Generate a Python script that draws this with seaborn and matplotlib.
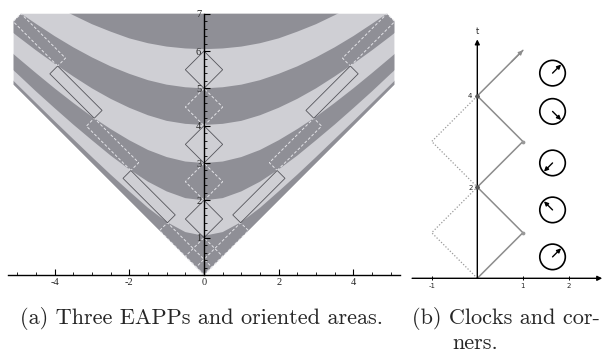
import matplotlib
matplotlib.use("Agg")
import matplotlib.pyplot as plt
from matplotlib.patches import Polygon, Circle
from matplotlib.ticker import MultipleLocator
import numpy as np
import seaborn as sns

# ---- (a) proper-time bands, boundaries read at x = 0 .. 5.5 (right half, mirrored)
x_pts = [0.0, 0.5, 1.0, 1.5, 2.0, 2.5, 3.0, 3.5, 4.0, 4.5, 5.0, 5.5]
bound_1 = [1.05, 1.15, 1.42, 1.80, 2.24, 2.69, 3.16, 3.64, 4.12, 4.61, 5.10, 5.59]
bound_2 = [2.00, 2.06, 2.24, 2.50, 2.83, 3.20, 3.61, 4.03, 4.47, 4.92, 5.39, 5.85]
bound_3 = [3.00, 3.04, 3.16, 3.35, 3.61, 3.91, 4.24, 4.61, 5.00, 5.41, 5.83, 6.26]
bound_4 = [4.02, 4.05, 4.13, 4.28, 4.48, 4.72, 5.00, 5.32, 5.66, 6.02, 6.40, 6.80]
bound_5 = [5.00, 5.03, 5.10, 5.22, 5.39, 5.59, 5.83, 6.10, 6.40, 6.73, 7.07, 7.43]
bound_6 = [6.05, 6.07, 6.12, 6.21, 6.34, 6.52, 6.72, 6.96, 7.22, 7.50, 7.80, 8.10]

# outline of the shaded cone
cone_x = [0.0, 5.1, 5.1, 4.9, -4.9, -5.1, -5.1]
cone_t = [0.0, 5.1, 6.8, 7.0, 7.0, 6.8, 5.1]

# light-clock diamonds on the resting worldline
center_solid = [[(0, 1), (0.5, 1.5), (0, 2), (-0.5, 1.5)],
                [(0, 3), (0.5, 3.5), (0, 4), (-0.5, 3.5)],
                [(0, 5), (0.5, 5.5), (0, 6), (-0.5, 5.5)]]
center_dashed = [[(0, 0), (0.5, 0.5), (0, 1), (-0.5, 0.5)],
                 [(0, 2), (0.5, 2.5), (0, 3), (-0.5, 2.5)],
                 [(0, 4), (0.5, 4.5), (0, 5), (-0.5, 4.5)]]
# boosted ones on the right worldline (left one is the mirror image)
right_solid = [[(0.98, 1.40), (2.17, 2.59), (1.96, 2.80), (0.77, 1.61)],
               [(2.94, 4.20), (4.13, 5.39), (3.92, 5.60), (2.73, 4.41)]]
right_dashed = [[(0.00, 0.00), (1.19, 1.19), (0.98, 1.40), (-0.21, 0.21)],
                [(1.96, 2.80), (3.15, 3.99), (2.94, 4.20), (1.75, 3.01)],
                [(3.92, 5.60), (5.11, 6.79), (4.90, 7.00), (3.71, 5.81)]]

# ---- (b) clocks and corners
zig_x = [0, 1, 0, 1, 0, 1]
zig_t = [0, 1, 2, 3, 4, 5]
dot_x = [0, -1, 0, -1, 0]
dot_t = [0, 1, 2, 3, 4]
clock_x = [1.65, 1.65, 1.65, 1.65, 1.65]
clock_t = [0.47, 1.50, 2.53, 3.66, 4.50]
clock_angle = [45, 135, 225, 315, 45]

sns.set_theme(style="white")
plt.rcParams['axes.unicode_minus'] = False

light = '#cfcfd4'
dark = '#8f8f96'

fig = plt.figure(figsize=(6.07, 3.54), dpi=100)

# ================= panel (a)
ax = fig.add_axes([8 / 607, 79 / 354, 392 / 607, 265 / 354])
ax.set_facecolor('white')
cone = Polygon(list(zip(cone_x, cone_t)), closed=True, fc=light, ec='none', zorder=1)
ax.add_patch(cone)

xs = np.array(x_pts)
full_x = np.concatenate([-xs[::-1], xs[1:]])


def mirror(vals):
    v = np.array(vals)
    return np.concatenate([v[::-1], v[1:]])


low_edge = np.full(full_x.shape, -1.0)
top_edge = np.full(full_x.shape, 9.0)
dark_bands = [(low_edge, mirror(bound_1)),
              (mirror(bound_2), mirror(bound_3)),
              (mirror(bound_4), mirror(bound_5)),
              (mirror(bound_6), top_edge)]
for lo, hi in dark_bands:
    pts = list(zip(full_x, lo)) + list(zip(full_x[::-1], hi[::-1]))
    band = Polygon(pts, closed=True, fc=dark, ec='none', zorder=1.5)
    ax.add_patch(band)
    band.set_clip_path(cone)

left_solid = [[(-x, t) for x, t in poly] for poly in right_solid]
left_dashed = [[(-x, t) for x, t in poly] for poly in right_dashed]
for poly in center_solid + right_solid + left_solid:
    ax.add_patch(Polygon(poly, closed=True, fill=False, ec='#55555b', lw=0.6, zorder=2.2))
for poly in center_dashed + right_dashed + left_dashed:
    ax.add_patch(Polygon(poly, closed=True, fill=False, ec='#e4e4e8', lw=0.7,
                         ls=(0, (3, 2)), zorder=2.1))

ax.set_xlim(-5.25, 5.25)
ax.set_ylim(0, 7.1)
ax.set_axisbelow(False)
for s in ['top', 'right']:
    ax.spines[s].set_visible(False)
ax.spines['left'].set_position(('data', 0))
ax.spines['bottom'].set_position(('data', 0))
ax.spines['left'].set_bounds(0, 7)
for s in ['left', 'bottom']:
    ax.spines[s].set_color('black')
    ax.spines[s].set_linewidth(1.0)
    ax.spines[s].set_zorder(6)
ax.xaxis.set_zorder(7)
ax.yaxis.set_zorder(7)
ax.set_xticks([-4, -2, 0, 2, 4])
ax.set_yticks([1, 2, 3, 4, 5, 6, 7])
ax.xaxis.set_minor_locator(MultipleLocator(0.5))
ax.yaxis.set_minor_locator(MultipleLocator(0.2))
ax.tick_params(axis='both', which='major', direction='in', length=4, width=0.8,
               color='black', labelsize=7.5, pad=2, left=True, bottom=True)
ax.tick_params(axis='both', which='minor', direction='in', length=2, width=0.6,
               color='black', left=True, bottom=True)
for lab in ax.get_xticklabels() + ax.get_yticklabels():
    lab.set_family('Liberation Serif')
ax.grid(False)

# ================= panel (b)
bx = fig.add_axes([411.2 / 607, 75.7 / 354, 191.5 / 607, 248.5 / 354])
bx.set_facecolor('none')
bx.set_xlim(-1.45, 2.75)
bx.set_ylim(0, 5.45)
for s in bx.spines.values():
    s.set_visible(False)
bx.spines['left'].set_position(('data', 0))
bx.spines['bottom'].set_position(('data', 0))
bx.annotate('', xy=(2.74, 0), xytext=(-1.43, 0),
            arrowprops=dict(arrowstyle='-|>', color='black', lw=1.0,
                            mutation_scale=7, shrinkA=0, shrinkB=0))
bx.annotate('', xy=(0, 5.24), xytext=(0, 0),
            arrowprops=dict(arrowstyle='-|>', color='black', lw=1.0,
                            mutation_scale=7, shrinkA=0, shrinkB=0))

sns.lineplot(x=dot_x, y=dot_t, sort=False, ax=bx, color='#9a9a9a', lw=0.9,
             linestyle=(0, (1, 1.5)), estimator=None)
sns.lineplot(x=zig_x, y=zig_t, sort=False, ax=bx, color='#8c8c8c', lw=1.1,
             estimator=None)
bx.annotate('', xy=(zig_x[-1], zig_t[-1]),
            xytext=(zig_x[-2] + 0.75 * (zig_x[-1] - zig_x[-2]),
                    zig_t[-2] + 0.75 * (zig_t[-1] - zig_t[-2])),
            arrowprops=dict(arrowstyle='-|>', color='#8c8c8c', lw=1.0,
                            mutation_scale=6, shrinkA=0, shrinkB=0))
bx.scatter([0, 0], [2, 4], s=5, color='#555555', zorder=5)
bx.scatter([1, 1], [1, 3], s=3, color='#999999', zorder=5)

r = 0.28
for cx, ct, ang in zip(clock_x, clock_t, clock_angle):
    bx.add_patch(Circle((cx, ct), r, fill=False, ec='black', lw=1.2, zorder=5))
    a = np.deg2rad(ang)
    bx.annotate('', xy=(cx + 0.95 * r * np.cos(a), ct + 0.95 * r * np.sin(a)),
                xytext=(cx, ct),
                arrowprops=dict(arrowstyle='-|>', color='black', lw=1.0,
                                mutation_scale=6, shrinkA=0, shrinkB=0), zorder=6)

bx.set_xticks([-1, 1, 2])
bx.set_yticks([2, 4])
bx.tick_params(axis='both', which='major', direction='inout', length=3, width=0.7,
               color='black', labelsize=5, pad=2, left=True, bottom=True)
bx.text(0, 5.42, 't', fontsize=6, ha='center', va='center')
bx.grid(False)

# ================= captions
cap = dict(family='cmr10', fontsize=16, va='center')
fig.text(0.332, 1 - 318 / 354, '(a) Three EAPPs and oriented areas.', ha='center', **cap)
fig.text(412 / 607, 1 - 318 / 354, '(b) Clocks and cor-', ha='left', **cap)
fig.text(452 / 607, 1 - 343 / 354, 'ners.', ha='left', **cap)

fig.savefig('out.png', dpi=100)
